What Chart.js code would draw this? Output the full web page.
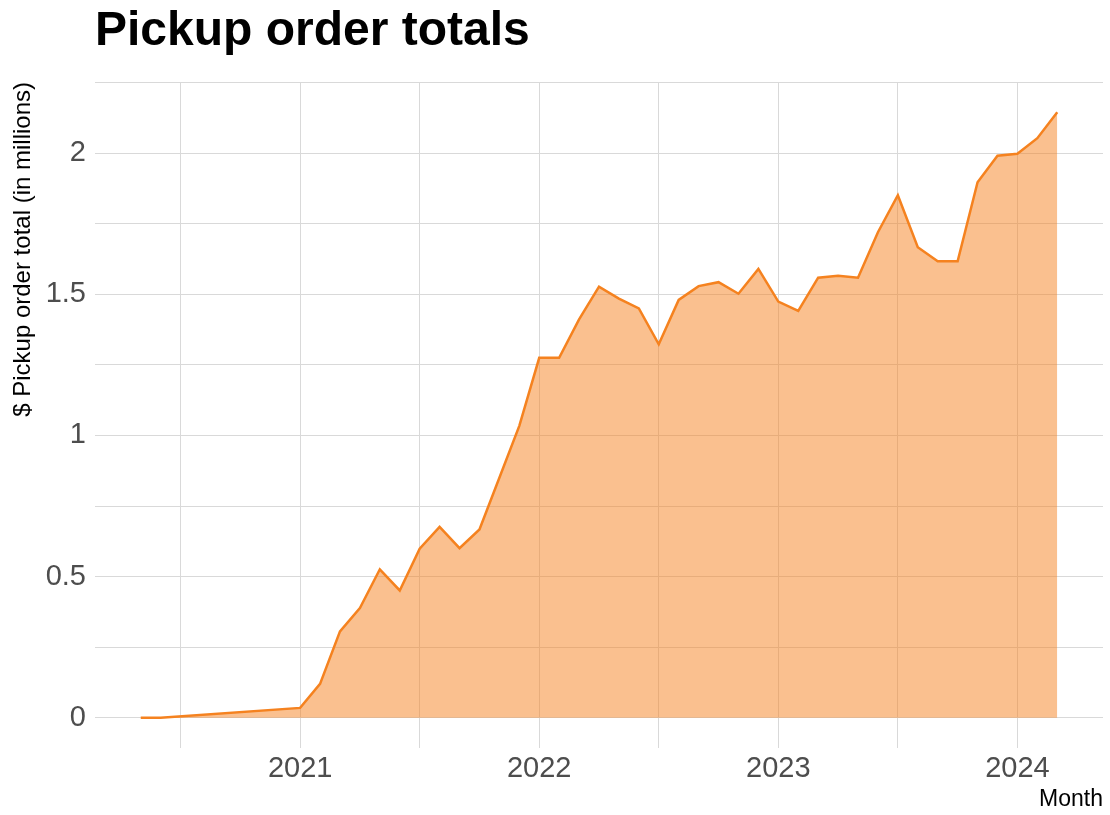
<!DOCTYPE html>
<html lang="en">
<head>
  <meta charset="UTF-8">
  <title>Pickup order totals</title>
  <script src="https://cdn.jsdelivr.net/npm/chart.js"></script>
  <style>
    body {
      margin: 0;
      background: #fff;
    }
    canvas {
      display: block;
    }
  </style>
</head>
<body>
<canvas id="pickupChart" width="1110" height="815"></canvas>

<script>
  // Monthly pickup order totals, $ millions
  const months = [
    '2020-05', '2020-06',
    '2021-01', '2021-02', '2021-03', '2021-04', '2021-05', '2021-06',
    '2021-07', '2021-08', '2021-09', '2021-10', '2021-11', '2021-12',
    '2022-01', '2022-02', '2022-03', '2022-04', '2022-05', '2022-06',
    '2022-07', '2022-08', '2022-09', '2022-10', '2022-11', '2022-12',
    '2023-01', '2023-02', '2023-03', '2023-04', '2023-05', '2023-06',
    '2023-07', '2023-08', '2023-09', '2023-10', '2023-11', '2023-12',
    '2024-01', '2024-02', '2024-03'
  ];
  const totals = [
    0, 0,
    0.035, 0.12, 0.306, 0.389, 0.526, 0.451,
    0.599, 0.676, 0.601, 0.667, 0.85, 1.034,
    1.275, 1.275, 1.411, 1.527, 1.485, 1.45,
    1.323, 1.48, 1.529, 1.543, 1.502, 1.59,
    1.474, 1.441, 1.559, 1.566, 1.559, 1.72,
    1.851, 1.667, 1.617, 1.617, 1.897, 1.991,
    1.998, 2.053, 2.145
  ];

  const xTicks = [2020.5, 2021, 2021.5, 2022, 2022.5, 2023, 2023.5, 2024];
  const xTickLabels = ['', '2021', '', '2022', '', '2023', '', '2024'];
  const yTicks = [0, 0.25, 0.5, 0.75, 1, 1.25, 1.5, 1.75, 2, 2.25];
  const yTickLabels = ['0', '', '0.5', '', '1', '', '1.5', '', '2', ''];

  // "2021-03" -> 2021.1667 so months sit on a continuous year axis
  function toYear(m) {
    const [y, mo] = m.split('-').map(Number);
    return y + (mo - 1) / 12;
  }

  const points = months.map((m, i) => ({ x: toYear(m), y: totals[i] }));

  const titlePlugin = {
    id: 'plotTitle',
    afterDraw(chart) {
      const ctx = chart.ctx;
      ctx.save();
      ctx.font = 'bold 48px "Liberation Sans", Arial, sans-serif';
      ctx.fillStyle = '#000';
      ctx.textBaseline = 'alphabetic';
      ctx.fillText('Pickup order totals', chart.chartArea.left, 45);
      ctx.restore();
    }
  };

  const gridColor = '#d9d9d9';
  const fontFamily = '"Liberation Sans", Arial, sans-serif';
  const tickFont = { family: fontFamily, size: 29 };

  new Chart(document.getElementById('pickupChart'), {
    type: 'line',
    data: {
      datasets: [{
        data: points,
        borderColor: '#f5821f',
        backgroundColor: 'rgba(245, 130, 31, 0.5)',
        borderWidth: 2.5,
        fill: 'origin',
        pointRadius: 0,
        tension: 0
      }]
    },
    options: {
      responsive: false,
      animation: false,
      layout: {
        padding: { top: 82, right: 7, bottom: 0, left: 0 }
      },
      plugins: {
        legend: { display: false },
        tooltip: { enabled: false }
      },
      scales: {
        x: {
          type: 'linear',
          min: 2020.142,
          max: 2024.358,
          afterBuildTicks: s => { s.ticks = xTicks.map(v => ({ value: v })); },
          afterFit: s => { s.height = 67; },
          grid: { color: gridColor, lineWidth: 1, drawTicks: false },
          border: { display: false },
          ticks: {
            callback: (v, i) => xTickLabels[i],
            color: '#4d4d4d',
            font: tickFont,
            padding: 4,
            autoSkip: false,
            maxRotation: 0
          },
          title: {
            display: true,
            text: 'Month',
            align: 'end',
            color: '#000',
            font: { family: fontFamily, size: 23 },
            padding: { top: 0, bottom: 2 }
          }
        },
        y: {
          min: -0.107,
          max: 2.252,
          afterBuildTicks: s => { s.ticks = yTicks.map(v => ({ value: v })); },
          afterFit: s => { s.width = 95; },
          grid: { color: gridColor, lineWidth: 1, drawTicks: false },
          border: { display: false },
          ticks: {
            callback: (v, i) => yTickLabels[i],
            color: '#4d4d4d',
            font: tickFont,
            padding: 9
          },
          title: {
            display: true,
            text: '$ Pickup order total (in millions)',
            align: 'end',
            color: '#000',
            font: { family: fontFamily, size: 24 },
            padding: { top: 9, bottom: 0 }
          }
        }
      }
    },
    plugins: [titlePlugin]
  });
</script>
</body>
</html>
